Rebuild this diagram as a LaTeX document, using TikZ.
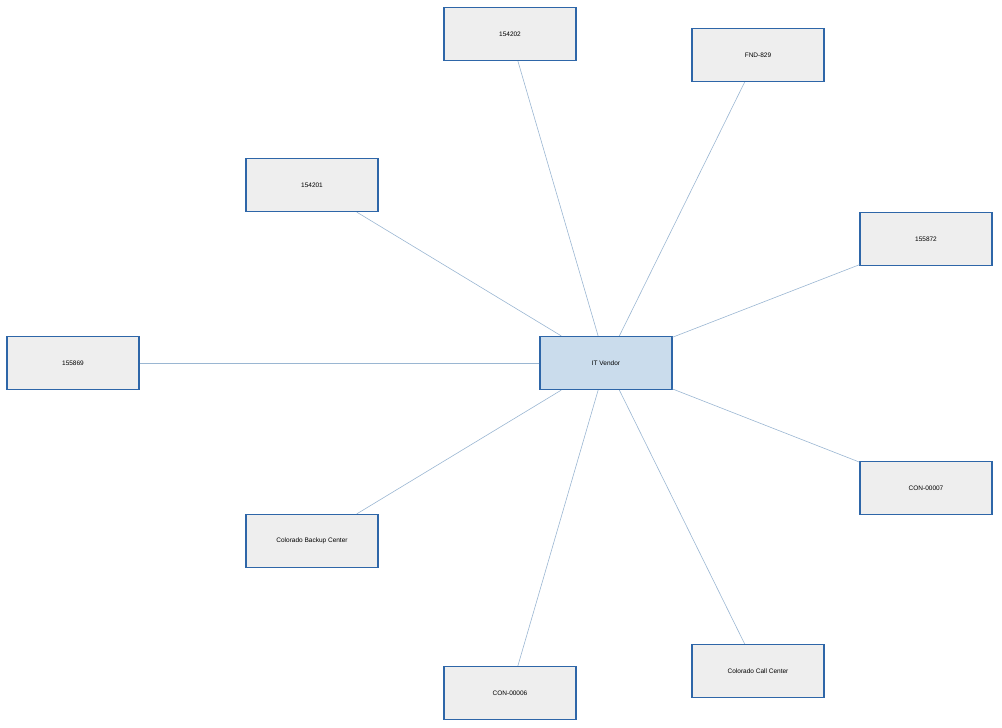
\documentclass[tikz,border=0pt]{standalone}
\usepackage{fontspec}
\setmainfont{Liberation Sans}
\definecolor{boxline}{HTML}{2E66A8}
\definecolor{boxfill}{HTML}{EEEEEE}
\definecolor{hubfill}{HTML}{CADCEC}
\definecolor{linkline}{HTML}{9AB6D2}
\begin{document}
\begin{tikzpicture}[x=1pt,y=-1pt,
           box_style/.style={rectangle,draw=boxline,line width=1.2pt,fill=boxfill,minimum width=132pt,minimum height=53pt,inner sep=0pt,font=\fontsize{6.5}{8}\selectfont},
           hub_style/.style={box_style,fill=hubfill},
           edge_style/.style={draw=linkline,line width=0.6pt}]
            \useasboundingbox (0,0) rectangle (1002,728);
            \node[hub_style] (hub) at (606, 363)  {IT Vendor};
            \node[box_style] (b1) at (510, 34)  {154202};
            \node[box_style] (b2) at (758, 55)  {FND-829};
            \node[box_style] (b3) at (926, 239)  {155872};
            \node[box_style] (b4) at (926, 488)  {CON-00007};
            \node[box_style] (b5) at (758, 671)  {Colorado Call Center};
            \node[box_style] (b6) at (510, 693)  {CON-00006};
            \node[box_style] (b7) at (312, 541)  {Colorado Backup Center};
            \node[box_style] (b8) at (73, 363)  {155869};
            \node[box_style] (b9) at (312, 185)  {154201};
            \begin{scope}[on background layer/.try]
            \end{scope}
            \draw[edge_style]  (hub) -- (b1);
            \draw[edge_style]  (hub) -- (b2);
            \draw[edge_style]  (hub) -- (b3);
            \draw[edge_style]  (hub) -- (b4);
            \draw[edge_style]  (hub) -- (b5);
            \draw[edge_style]  (hub) -- (b6);
            \draw[edge_style]  (hub) -- (b7);
            \draw[edge_style]  (hub) -- (b8);
            \draw[edge_style]  (hub) -- (b9);
        \end{tikzpicture}
\end{document}
